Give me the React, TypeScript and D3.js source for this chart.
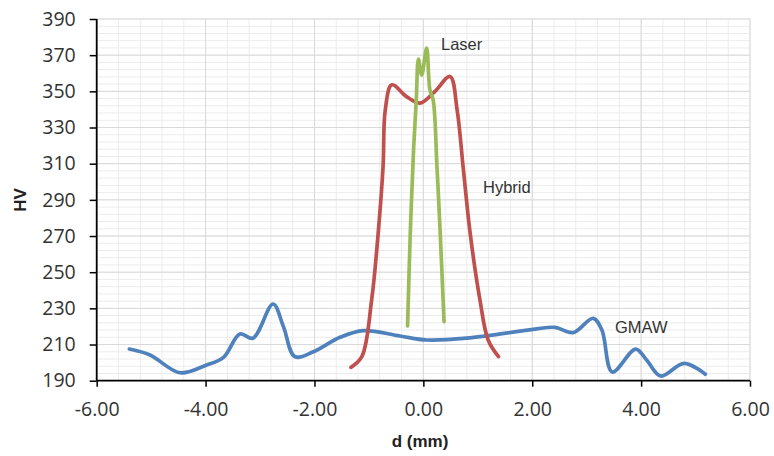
import { useEffect, useRef } from 'react';
import * as d3 from 'd3';

// values (d in mm, hardness in HV)
const gmawD = [-5.40, -5.02, -4.47, -3.98, -3.67, -3.37, -3.13, -2.76, -2.57, -2.36, -2.02, -1.53, -1.10, -0.43, 0.06, 0.80, 2.02, 2.42, 2.75, 3.12, 3.28, 3.47, 3.90, 4.10, 4.36, 4.79, 5.18];
const gmawHV = [207.5, 204.2, 194.4, 198.7, 202.9, 215.8, 213.5, 232.4, 219.9, 203.3, 206.0, 214.0, 217.7, 214.7, 212.5, 213.5, 218.4, 219.5, 216.6, 224.5, 218.0, 194.8, 207.5, 201.5, 192.6, 199.6, 193.6];

const hybridD = [-1.33, -1.13, -0.95, -0.83, -0.74, -0.70, -0.58, -0.31, -0.06, 0.21, 0.49, 0.62, 0.73, 0.86, 1.04, 1.19, 1.38];
const hybridHV = [197.4, 203.3, 234.6, 271.5, 308.4, 339.5, 353.6, 347.1, 343.5, 349.9, 358.2, 339.8, 308.4, 271.5, 234.6, 212.5, 203.3];

const laserD = [-0.29, -0.24, -0.18, -0.13, -0.09, -0.03, 0.06, 0.12, 0.18, 0.25, 0.31, 0.38];
const laserHV = [220.3, 271.5, 317.6, 345.3, 367.8, 359.0, 373.9, 350.8, 345.3, 308.4, 271.5, 222.6];

const xTicks = [-6, -4, -2, 0, 2, 4, 6];
const yTicks = [190, 210, 230, 250, 270, 290, 310, 330, 350, 370, 390];

const series = [
  { name: 'GMAW', d: gmawD, hv: gmawHV, color: '#4f81bd', label: [615, 333] },
  { name: 'Hybrid', d: hybridD, hv: hybridHV, color: '#c0504d', label: [483, 193] },
  { name: 'Laser', d: laserD, hv: laserHV, color: '#9bbb59', label: [441, 50] },
];

const App = () => {
  const svgRef = useRef(null);

  useEffect(() => {
    const width = 774;
    const height = 456;
    const svg = d3.select(svgRef.current);
    svg.selectAll('*').remove();

    const x = d3.scaleLinear().domain([-6, 6]).range([96.7, 750]);
    const y = d3.scaleLinear().domain([190, 390]).range([380.7, 19]);

    // minor gridlines
    const g = svg.append('g');
    g.selectAll('.vminor')
      .data(d3.range(-6, 6.001, 0.4))
      .enter()
      .append('line')
      .attr('x1', d => x(d)).attr('x2', d => x(d))
      .attr('y1', y(190)).attr('y2', y(390))
      .attr('stroke', '#ececec').attr('stroke-width', 1);
    g.selectAll('.hminor')
      .data(d3.range(190, 390.001, 4))
      .enter()
      .append('line')
      .attr('x1', x(-6)).attr('x2', x(6))
      .attr('y1', d => y(d)).attr('y2', d => y(d))
      .attr('stroke', '#ececec').attr('stroke-width', 1);

    // major gridlines
    g.selectAll('.vmajor')
      .data(xTicks)
      .enter()
      .append('line')
      .attr('x1', d => x(d)).attr('x2', d => x(d))
      .attr('y1', y(190)).attr('y2', y(390))
      .attr('stroke', '#d9d9d9').attr('stroke-width', 1);
    g.selectAll('.hmajor')
      .data(yTicks)
      .enter()
      .append('line')
      .attr('x1', x(-6)).attr('x2', x(6))
      .attr('y1', d => y(d)).attr('y2', d => y(d))
      .attr('stroke', '#d9d9d9').attr('stroke-width', 1);

    // curves
    const line = d3.line<[number, number]>()
      .x(p => x(p[0]))
      .y(p => y(p[1]))
      .curve(d3.curveCatmullRom.alpha(0.5));

    series.forEach(s => {
      const pts = s.d.map((v, i) => [v, s.hv[i]] as [number, number]);
      svg.append('path')
        .attr('d', line(pts))
        .attr('fill', 'none')
        .attr('stroke', s.color)
        .attr('stroke-width', 3.7)
        .attr('stroke-linecap', 'round')
        .attr('stroke-linejoin', 'round');
    });

    // axes (hyphen minus like the original)
    const fmtX = (d: number) => d3.format('.2f')(d).replace('\u2212', '-');

    const xAxis = svg.append('g')
      .attr('transform', `translate(0, ${y(190)})`)
      .call(d3.axisBottom(x).tickValues(xTicks).tickSize(6).tickFormat(fmtX as any));
    xAxis.selectAll('.tick line').attr('stroke', '#000').attr('stroke-width', 1.5);
    xAxis.selectAll('text')
      .attr('y', 0).attr('dy', 35)
      .attr('fill', '#333')
      .style('font-family', '"Open Sans", sans-serif')
      .style('font-size', '19.5px');

    const yAxis = svg.append('g')
      .attr('transform', `translate(${x(-6)}, 0)`)
      .call(d3.axisLeft(y).tickValues(yTicks).tickSize(7).tickFormat(d3.format('d')));
    yAxis.selectAll('.tick line').attr('stroke', '#000').attr('stroke-width', 1.5);
    yAxis.selectAll('text')
      .attr('x', -21)
      .attr('fill', '#333')
      .style('font-family', '"Open Sans", sans-serif')
      .style('font-size', '19.5px');
    svg.selectAll('.domain').remove();

    // plain axis lines
    svg.append('line')
      .attr('x1', x(-6)).attr('x2', x(6)).attr('y1', y(190)).attr('y2', y(190))
      .attr('stroke', '#000').attr('stroke-width', 1.8);
    svg.append('line')
      .attr('x1', x(-6)).attr('x2', x(-6)).attr('y1', y(190)).attr('y2', y(390))
      .attr('stroke', '#000').attr('stroke-width', 1.8);

    // axis titles
    svg.append('text')
      .attr('transform', `translate(26, ${(y(190) + y(390)) / 2}) rotate(-90)`)
      .attr('text-anchor', 'middle')
      .style('font-family', '"Liberation Sans", Arial, sans-serif')
      .style('font-weight', 'bold')
      .style('font-size', '17px')
      .attr('fill', '#222')
      .text('HV');
    svg.append('text')
      .attr('x', 420).attr('y', 447)
      .attr('text-anchor', 'middle')
      .style('font-family', '"Liberation Sans", Arial, sans-serif')
      .style('font-weight', 'bold')
      .style('font-size', '17px')
      .attr('fill', '#222')
      .text('d (mm)');

    // series labels
    series.forEach(s => {
      svg.append('text')
        .attr('x', s.label[0]).attr('y', s.label[1])
        .style('font-family', '"Liberation Sans", Arial, sans-serif')
        .style('font-size', '16.5px')
        .attr('fill', '#333')
        .text(s.name);
    });

    svg.attr('width', width).attr('height', height);
  }, []);

  return (
    <svg ref={svgRef} width={774} height={456} style={{ position: 'absolute', left: 0, top: 0, background: '#fff' }}></svg>
  );
};

export default App;
